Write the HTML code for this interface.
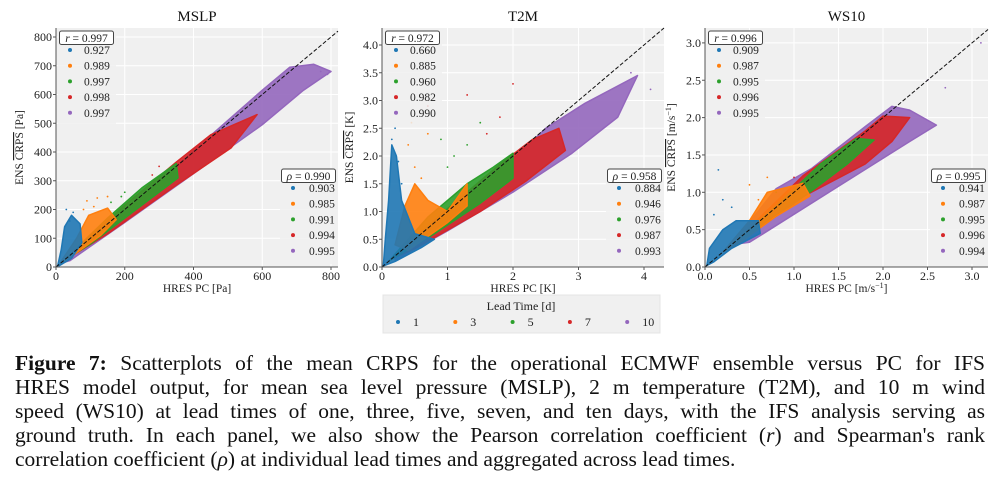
<!DOCTYPE html>
<html><head><meta charset="utf-8">
<style>
body{margin:0;background:#fff;width:1000px;height:488px;overflow:hidden;font-family:"Liberation Serif",serif;}
svg{position:absolute;left:0;top:0}
.cap{position:absolute;left:15px;width:970px;font-size:21.5px;line-height:24px;color:#111;text-align:justify;text-align-last:justify;white-space:nowrap;}
</style></head><body>
<svg id="fig" width="1000" height="340" viewBox="0 0 1000 340"></svg>
<div>
<div class="cap" style="top:351px"><b>Figure 7:</b> Scatterplots of the mean CRPS for the operational ECMWF ensemble versus PC for IFS</div>
<div class="cap" style="top:375px">HRES model output, for mean sea level pressure (MSLP), 2 m temperature (T2M), and 10 m wind</div>
<div class="cap" style="top:399px">speed (WS10) at lead times of one, three, five, seven, and ten days, with the IFS analysis serving as</div>
<div class="cap" style="top:423px">ground truth. In each panel, we also show the Pearson correlation coefficient (<i>r</i>) and Spearman's rank</div>
<div class="cap" style="top:447px;text-align-last:left">correlation coefficient (<i>ρ</i>) at individual lead times and aggregated across lead times.</div>
</div>
<script>
const leadTimes=["1","3","5","7","10"];
const colors=["#1f77b4","#ff7f0e","#2ca02c","#d62728","#9467bd"];
// MSLP
const mslpR=["0.927","0.989","0.997","0.998","0.997"], mslpRAll="0.997";
const mslpRho=["0.903","0.985","0.991","0.994","0.995"], mslpRhoAll="0.990";
const mslpTicks=[0,200,400,600,800], mslpYTicks=[0,100,200,300,400,500,600,700,800];
const mslpBands=[
 [[5,5],[15,60],[25,140],[45,180],[70,150],[75,85],[45,30],[10,5]],
 [[15,20],[60,100],[95,180],[150,205],[175,165],[130,110],[60,50],[20,15]],
 [[20,20],[150,170],[250,275],[350,360],[355,310],[250,215],[100,80]],
 [[20,20],[200,215],[350,365],[450,460],[585,530],[510,415],[350,285],[150,115]],
 [[20,15],[200,190],[400,405],[600,615],[680,695],[750,705],[800,680],[720,615],[600,495],[400,325],[200,155],[40,22]]];
const mslpOut=[[[30,200],[50,190],[40,160]],[[90,230],[120,240],[110,210],[150,245],[80,200]],[[190,245],[200,260],[160,225]],[[280,320],[300,350]],[[770,680],[790,670]]];
// T2M
const t2mR=["0.660","0.885","0.960","0.982","0.990"], t2mRAll="0.972";
const t2mRho=["0.884","0.946","0.976","0.987","0.993"], t2mRhoAll="0.958";
const t2mTicks=[0,1,2,3,4], t2mYTicks=[0,0.5,1,1.5,2,2.5,3,3.5,4];
const t2mBands=[
 [[0.02,0.02],[0.05,0.5],[0.1,1.2],[0.15,2.2],[0.22,2.0],[0.3,1.2],[0.5,0.6],[0.8,0.5],[0.6,0.35],[0.2,0.1]],
 [[0.2,0.4],[0.35,1.1],[0.5,1.5],[0.7,1.2],[1.0,1.0],[1.3,1.5],[1.3,1.1],[1.0,0.8],[0.4,0.3]],
 [[0.1,0.1],[0.7,0.9],[1.3,1.5],[1.7,1.8],[2.0,2.05],[2.0,1.6],[1.5,1.15],[0.8,0.6]],
 [[0.15,0.15],[1,1.05],[1.8,1.85],[2.3,2.3],[2.7,2.5],[2.8,2.1],[2.2,1.55],[1.5,1.0],[0.5,0.33]],
 [[0.2,0.15],[1,0.95],[2,1.95],[2.5,2.5],[3.1,2.95],[3.9,3.45],[3.6,2.7],[2.9,2.05],[2,1.35],[1,0.65],[0.2,0.12]]];
const t2mOut=[[[0.15,2.3],[0.25,1.9],[0.3,1.5],[0.2,2.5]],[[0.4,2.2],[0.5,1.8],[0.6,1.6],[0.7,2.4],[0.45,2.6]],[[0.9,2.3],[1.1,2.0],[1.5,2.6],[1.3,2.2],[1.0,1.8]],[[1.3,3.1],[1.6,2.4],[1.8,2.7],[0.7,2.9],[2.0,3.3]],[[4.1,3.2],[3.8,3.5]]];
// WS10
const ws10R=["0.909","0.987","0.995","0.996","0.995"], ws10RAll="0.996";
const ws10Rho=["0.941","0.987","0.995","0.996","0.994"], ws10RhoAll="0.995";
const ws10Ticks=[0,0.5,1,1.5,2,2.5,3], ws10YTicks=[0,0.5,1,1.5,2,2.5,3];
const ws10Bands=[
 [[0.02,0.02],[0.05,0.25],[0.2,0.5],[0.35,0.62],[0.6,0.62],[0.62,0.45],[0.3,0.25],[0.1,0.07]],
 [[0.2,0.2],[0.5,0.62],[0.7,1.0],[1.1,1.12],[1.18,0.95],[0.8,0.68],[0.4,0.33]],
 [[0.3,0.3],[0.8,0.82],[1.3,1.38],[1.7,1.72],[1.9,1.7],[1.6,1.38],[1.2,1.02],[0.5,0.43]],
 [[0.3,0.3],[1.1,1.22],[1.8,1.82],[2.0,2.02],[2.3,2.0],[2.1,1.68],[1.8,1.38],[1.0,0.88],[0.4,0.33]],
 [[0.3,0.3],[0.8,1.05],[1.2,1.32],[1.8,1.88],[2.1,2.15],[2.3,2.1],[2.6,1.9],[2.3,1.68],[1.5,1.08],[0.5,0.33]]];
const ws10Out=[[[0.15,1.3],[0.2,0.9],[0.3,0.8],[0.1,0.7]],[[0.5,1.1],[0.6,0.9],[0.7,1.2]],[[0.8,1.0]],[[1.0,1.2]],[[2.7,2.4],[3.1,3.0],[2.5,2.5]]];

const NS="http://www.w3.org/2000/svg", fig=document.getElementById('fig');
function mk(tag,attrs,parent){const e=document.createElementNS(NS,tag);for(const k in attrs)e.setAttribute(k,attrs[k]);(parent||fig).appendChild(e);return e;}
function txt(s,x,y,size,anchor,parent,extra){const t=mk('text',Object.assign({x:x,y:y,'font-size':size,'text-anchor':anchor||'start','font-family':'Liberation Serif, serif',fill:'#222'},extra||{}),parent);t.textContent=s;return t;}

function panel(p){
 const g=mk('g',{});
 
 
 const sx=v=>p.x0+v*p.kx, sy=v=>p.y0-v*p.ky;
 const bg=mk('rect',{x:p.x0,y:p.top,width:p.right-p.x0,height:p.y0-p.top,fill:'#f0f0f0'},g);
 
 
 p.xt.forEach(v=>{mk('line',{x1:sx(v),x2:sx(v),y1:p.top,y2:p.y0,stroke:'#fff','stroke-width':1},g);});
 p.yt.forEach(v=>{mk('line',{x1:p.x0,x2:p.right,y1:sy(v),y2:sy(v),stroke:'#fff','stroke-width':1},g);});
 for(let i=4;i>=0;i--){
  const pts=p.bands[i].map(d=>sx(d[0]).toFixed(1)+','+sy(d[1]).toFixed(1)).join(' ');
  const pg=mk('polygon',{points:pts,fill:colors[i],'fill-opacity':0.9,stroke:colors[i],'stroke-width':1.5,'stroke-linejoin':'round'},g);
  
  
  p.out[i].forEach(d=>{const c=mk('circle',{cx:sx(d[0]),cy:sy(d[1]),r:0.9,fill:colors[i]},g);
   
   });
 }
 const dl=mk('line',{x1:p.x0,y1:p.y0,x2:p.right,y2:sy((p.right-p.x0)/p.kx),stroke:'#111','stroke-width':1,'stroke-dasharray':'4,2'},g);
 
 
 mk('line',{x1:p.x0,x2:p.x0,y1:p.top,y2:p.y0,stroke:'#555','stroke-width':1},g);
 mk('line',{x1:p.x0,x2:p.right,y1:p.y0,y2:p.y0,stroke:'#555','stroke-width':1},g);
 p.xt.forEach((v,j)=>{mk('line',{x1:sx(v),x2:sx(v),y1:p.y0,y2:p.y0+3,stroke:'#555'},g);txt(p.xl[j],sx(v),p.y0+13,12,'middle',g);});
 p.yt.forEach((v,j)=>{mk('line',{x1:p.x0-3,x2:p.x0,y1:sy(v),y2:sy(v),stroke:'#555'},g);txt(p.yl[j],p.x0-4,sy(v)+4,12,'end',g);});
 const tt=txt(p.title,(p.x0+p.right)/2,21,15,'middle',g,{fill:'#111'});
 
 
 const xl=mk('text',{x:(p.x0+p.right)/2,y:p.y0+25,'font-size':11.5,'text-anchor':'middle','font-family':'Liberation Serif, serif',fill:'#222'},g);
 
 
 p.xlab.forEach((s,k)=>{const t=mk('tspan',k===1?{'baseline-shift':'super','font-size':8}:{},xl);t.textContent=s;});
 const cy=(p.top+p.y0)/2, lx=p.x0-p.ylabOff;
 const yl=mk('text',{x:lx,y:cy,'font-size':11.5,'text-anchor':'middle','font-family':'Liberation Serif, serif',fill:'#222',transform:`rotate(-90 ${lx} ${cy})`},g);
 
 
 const a=mk('tspan',{},yl);a.textContent='ENS ';
 const b=mk('tspan',{'text-decoration':'overline'},yl);b.textContent='CRPS';
 p.unit.forEach((s,k)=>{const t=mk('tspan',k===1?{'baseline-shift':'super','font-size':8}:{},yl);t.textContent=s;});
 legend(g,p.id+'-pearson-legend',p.x0+2,30,'r',p.rAll,p.r,true);
 legend(g,p.id+'-spearman-legend',p.right-58,168,'ρ',p.rhoAll,p.rho,false);
}
function legend(g,name,x,y,sym,all,vals,left){
 const lg=mk('g',{},g);
 
 
 mk('rect',{x:x,y:y,width:58,height:96,fill:'#f0f0f0','fill-opacity':0.85},lg);
 mk('rect',{x:x+1.5,y:y+1,width:54,height:13.5,fill:'#fff',stroke:'#444','stroke-width':1,rx:2},lg);
 const t=txt('',x+28.5,y+12,11.5,'middle',lg);
 const s1=mk('tspan',{'font-style':'italic'},t);s1.textContent=sym;
 const s2=mk('tspan',{},t);s2.textContent=' = '+all;
 vals.forEach((v,i)=>{const yy=y+23+i*15.7;
  mk('circle',{cx:x+(left?12:13),cy:yy-3,r:2,fill:colors[i]},lg);
  txt(v,x+(left?26:29),yy+1,11.5,'start',lg);});
}
panel({id:'mslp',title:'MSLP',x0:56,right:338,top:28,y0:267,kx:275/800,ky:230/800,xt:mslpTicks,xl:mslpTicks.map(String),yt:mslpYTicks,yl:mslpYTicks.map(String),bands:mslpBands,out:mslpOut,xlab:['HRES PC [Pa]'],unit:[' [Pa]'],ylabOff:33,r:mslpR,rAll:mslpRAll,rho:mslpRho,rhoAll:mslpRhoAll});
panel({id:'t2m',title:'T2M',x0:382,right:664,top:28,y0:267,kx:65.5,ky:55.5,xt:t2mTicks,xl:t2mTicks.map(String),yt:t2mYTicks,yl:t2mYTicks.map(v=>v.toFixed(1)),bands:t2mBands,out:t2mOut,xlab:['HRES PC [K]'],unit:[' [K]'],ylabOff:29,r:t2mR,rAll:t2mRAll,rho:t2mRho,rhoAll:t2mRhoAll});
panel({id:'ws10',title:'WS10',x0:705,right:988,top:28,y0:267,kx:89,ky:74.7,xt:ws10Ticks,xl:ws10Ticks.map(v=>v.toFixed(1)),yt:ws10YTicks,yl:ws10YTicks.map(v=>v.toFixed(1)),bands:ws10Bands,out:ws10Out,xlab:['HRES PC [m/s','−1',']'],unit:[' [m/s','−1',']'],ylabOff:30,r:ws10R,rAll:ws10RAll,rho:ws10Rho,rhoAll:ws10RhoAll});
// lead time legend
const lg=mk('g',{});


mk('rect',{x:383,y:295,width:277,height:38,fill:'#f0f0f0',stroke:'#e4e4e4'},lg);
txt('Lead Time [d]',521,310,12,'middle',lg);
leadTimes.forEach((l,i)=>{const x=398+i*57.3;
 const c=mk('circle',{cx:x,cy:322,r:2,fill:colors[i]},lg);
 
 
 txt(l,x+15,326,12,'start',lg);});
</script>
</body></html>
